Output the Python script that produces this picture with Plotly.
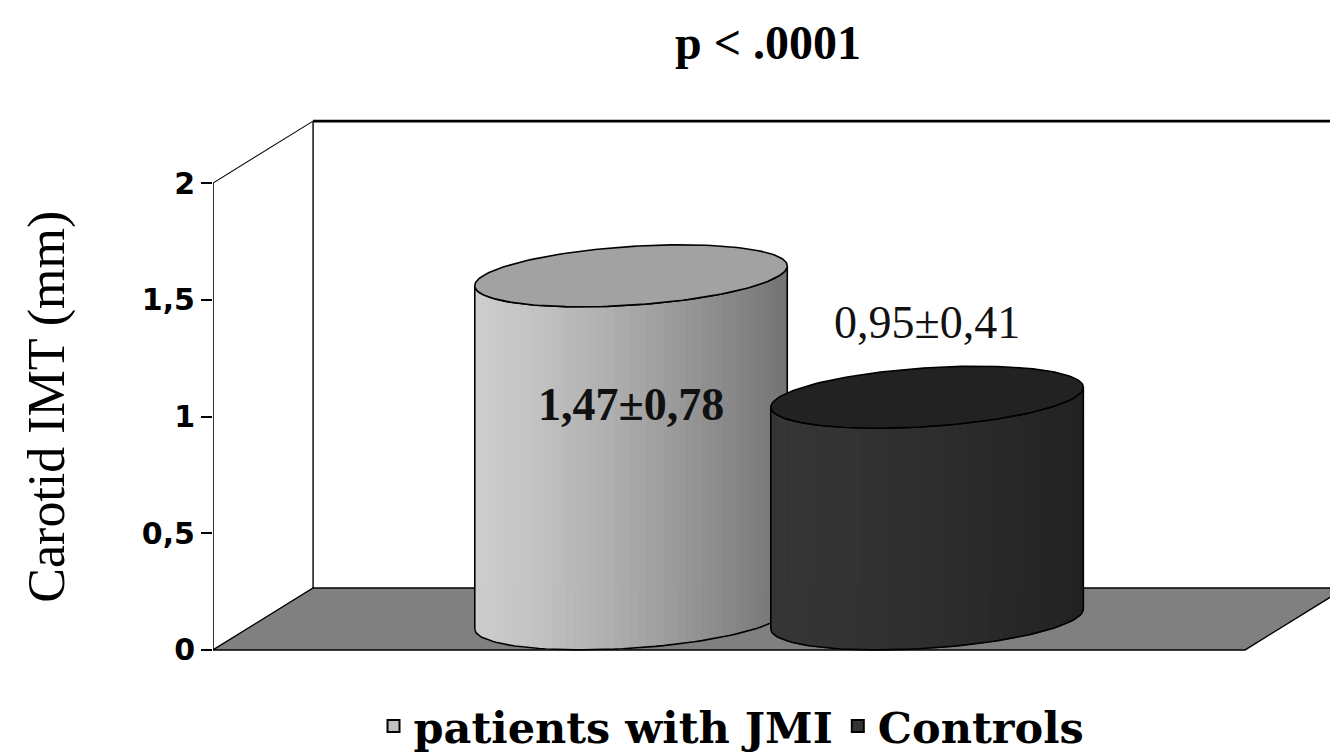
import numpy as np
import plotly.graph_objects as go

# ---- data -------------------------------------------------------------
groups = ["patients with JMI", "Controls"]
imt_mean = [1.47, 0.95]
imt_sd = [0.78, 0.41]
value_labels = ["1,47±0,78", "0,95±0,41"]
tick_values = [0, 0.5, 1, 1.5, 2]
tick_labels = ["0", "0,5", "1", "1,5", "2"]

# ---- style / geometry of the 3-D frame ------------------------------------
Y_MAX = 2.0                 # top of the value axis
X_RANGE = [-1.243, 2.530]   # series sit at x = 0, 1
Y_RANGE = [-0.086, 2.356]
FLOOR_X = [-1.243, 2.243]   # front edge of the floor
DX, DY = 0.338, 0.2655      # oblique offset of the depth direction
R, RZ = 0.5, 0.5            # cylinder radius (x units, depth fraction)
N_STRIPS = 60

body_gray = [(205, 115), (54, 34)]        # left -> right shade of each body
top_color = ["#a2a2a2", "#222222"]
legend_color = ["#c0c0c0", "#333333"]
label_shift = [-98, 106]
label_bold = [True, False]


def proj(x, z, y):
    return x + DX * z, y + DY * z


t0 = np.arctan(DX * RZ / R)
t_front = np.linspace(t0 + np.pi, t0 + 2 * np.pi, N_STRIPS + 1)


def ring(cx, h, t):
    xs = cx + R * np.cos(t)
    zs = 0.5 + RZ * np.sin(t)
    return proj(xs, zs, h)


fig = go.Figure()

for i, (name, h) in enumerate(zip(groups, imt_mean)):
    cx = float(i)
    bx, by = ring(cx, 0.0, t_front)
    tx, ty = ring(cx, h, t_front)
    x_left, x_right = bx[0], bx[-1]
    g0, g1 = body_gray[i]
    # shaded strips of the visible side
    for k in range(N_STRIPS):
        u = ((bx[k] + bx[k + 1]) / 2 - x_left) / (x_right - x_left)
        g = int(round(g0 + (g1 - g0) * u ** 1.3))
        col = f"rgb({g},{g},{g})"
        fig.add_trace(go.Scatter(
            x=[bx[k], bx[k + 1], tx[k + 1], tx[k], bx[k]],
            y=[by[k], by[k + 1], ty[k + 1], ty[k], by[k]],
            mode="lines", fill="toself", fillcolor=col,
            line=dict(color=col, width=1),
            hoverinfo="skip", showlegend=False))
    # outline of the body
    fig.add_trace(go.Scatter(
        x=np.concatenate([bx, tx[::-1], bx[:1]]),
        y=np.concatenate([by, ty[::-1], by[:1]]),
        mode="lines", line=dict(color="black", width=1.6),
        hoverinfo="skip", showlegend=False))
    # top ellipse
    t_all = np.linspace(0, 2 * np.pi, 181)
    ex, ey = ring(cx, h, t_all)
    fig.add_trace(go.Scatter(
        x=ex, y=ey, mode="lines", fill="toself", fillcolor=top_color[i],
        line=dict(color="black", width=1.6),
        hoverinfo="skip", showlegend=False))
    # value label
    lx, ly = proj(cx, 0.5, h)
    fig.add_annotation(
        x=lx, y=h, yshift=label_shift[i], text=value_labels[i],
        showarrow=False, xref="x", yref="y",
        xanchor="center", yanchor="middle",
        font=dict(family="Liberation Serif", size=46, color="#111111",
                  weight="bold" if label_bold[i] else "normal"))

# legend entries
for i, name in enumerate(groups):
    fig.add_trace(go.Scatter(
        x=[None], y=[None], mode="markers", name=name,
        marker=dict(symbol="square", size=26, color=legend_color[i],
                    line=dict(color="black", width=1.5))))

# ---- frame: back wall, floor, value axis ----------------------------------
x0, x1 = FLOOR_X
shapes = [
    # floor
    dict(type="path", layer="below",
         path=f"M {x0},0 L {x1},0 L {x1 + DX},{DY} L {x0 + DX},{DY} Z",
         fillcolor="#808080", line=dict(color="black", width=1.4)),
    # back wall edges
    dict(type="line", x0=x0 + DX, y0=DY, x1=x0 + DX, y1=Y_MAX + DY,
         line=dict(color="black", width=1.4)),
    dict(type="line", x0=x0 + DX, y0=Y_MAX + DY, x1=X_RANGE[1] + 1, y1=Y_MAX + DY,
         line=dict(color="black", width=2.8)),
    dict(type="line", x0=x0, y0=Y_MAX, x1=x0 + DX, y1=Y_MAX + DY,
         line=dict(color="black", width=1.1)),
    # value axis
    dict(type="line", x0=x0, y0=0, x1=x0, y1=Y_MAX,
         line=dict(color="black", width=1.6)),
]
for s in shapes:
    s.setdefault("xref", "x")
    s.setdefault("yref", "y")

fig.update_layout(
    width=1330, height=754,
    margin=dict(l=213, r=0, t=100, b=84),
    paper_bgcolor="white", plot_bgcolor="rgba(0,0,0,0)",
    shapes=shapes,
    xaxis=dict(range=X_RANGE, visible=False, fixedrange=True),
    yaxis=dict(range=Y_RANGE, tickvals=tick_values, ticktext=tick_labels,
               ticks="outside", ticklen=11, tickwidth=1.6, tickcolor="black",
               showgrid=False, zeroline=False, showline=False,
               tickfont=dict(family="DejaVu Sans", size=30, color="black",
                             weight="bold"),
               fixedrange=True),
    showlegend=True,
    legend=dict(orientation="h", xref="container", yref="container",
                x=0.55, xanchor="center", y=0.037, yanchor="middle",
                bgcolor="rgba(0,0,0,0)",
                font=dict(family="DejaVu Serif", size=43, color="black",
                          weight="bold"),
                itemsizing="constant"),
    annotations=list(fig.layout.annotations) + [
        dict(text="p < .0001", xref="paper", yref="paper",
             x=0.497, y=1.1, xanchor="center", yanchor="middle",
             showarrow=False,
             font=dict(family="Liberation Serif", size=48, color="black",
                       weight="bold")),
        dict(text="Carotid IMT (mm)", xref="paper", yref="paper",
             x=-0.1486, y=0.462, xanchor="center", yanchor="middle",
             textangle=-90, showarrow=False,
             font=dict(family="Liberation Serif", size=52, color="black")),
    ],
)

fig.write_html("out.html")
